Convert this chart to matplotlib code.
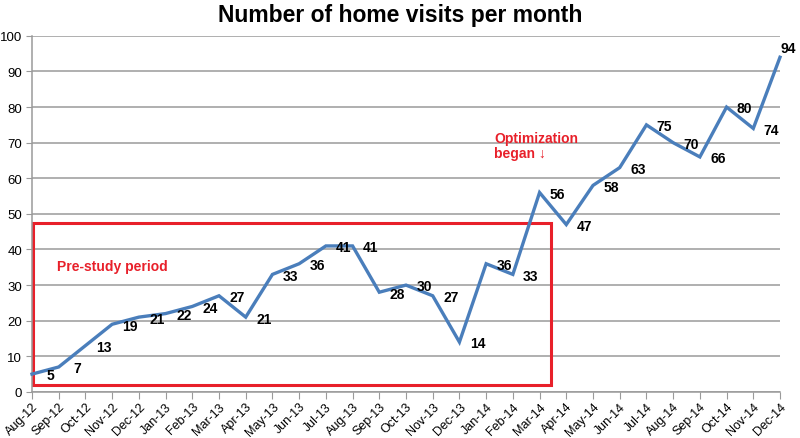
import matplotlib.pyplot as plt
from matplotlib.patches import Rectangle

plt.rcParams['font.family'] = ['Liberation Sans', 'DejaVu Sans']

months = ['Aug-12', 'Sep-12', 'Oct-12', 'Nov-12', 'Dec-12', 'Jan-13', 'Feb-13', 'Mar-13',
          'Apr-13', 'May-13', 'Jun-13', 'Jul-13', 'Aug-13', 'Sep-13', 'Oct-13', 'Nov-13',
          'Dec-13', 'Jan-14', 'Feb-14', 'Mar-14', 'Apr-14', 'May-14', 'Jun-14', 'Jul-14',
          'Aug-14', 'Sep-14', 'Oct-14', 'Nov-14', 'Dec-14']
visits = [5, 7, 13, 19, 21, 22, 24, 27, 21, 33, 36, 41, 41, 28, 30, 27, 14, 36, 33, 56,
          47, 58, 63, 75, 70, 66, 80, 74, 94]
yticks = list(range(0, 101, 10))

grey = '#9a9a9a'
red = '#e8202a'

fig = plt.figure(figsize=(8, 4.39), dpi=100)
ax = fig.add_axes([0.04, 0.105, 0.935, 0.811])

x = list(range(len(months)))
ax.plot(x, visits, color='#4a7ebb', lw=2.4, clip_on=False, zorder=3,
        solid_joinstyle='miter')

for i, v in enumerate(visits):
    # last label sits above-right of the point so it stays in the figure
    off = (6, 7) if i == len(visits) - 1 else (13, -1)
    ax.annotate(str(v), (i, v), xytext=off, textcoords='offset points',
                ha='center', va='center', fontsize=10, fontweight='bold',
                annotation_clip=False, zorder=4)

ax.set_xlim(0, len(months) - 1)
ax.set_ylim(0, 100)
ax.set_yticks(yticks)
ax.set_xticks(x)
ax.set_xticklabels(months, rotation=45, ha='right', rotation_mode='anchor', fontsize=9)
ax.tick_params(axis='y', labelsize=9.5, length=4, color=grey, pad=3)
ax.tick_params(axis='x', length=5, color=grey, pad=1)
ax.grid(axis='y', color=grey, lw=1.1)
ax.set_axisbelow(True)
for s in ['top', 'right']:
    ax.spines[s].set_visible(False)
for s in ['left', 'bottom']:
    ax.spines[s].set_color(grey)
    ax.spines[s].set_linewidth(1.1)

# pre-study box
ax.add_patch(Rectangle((0.03, 1.8), 19.4, 45.6, fill=False, ec=red, lw=2.2, zorder=2,
                       clip_on=False))
ax.text(0.94, 35.4, 'Pre-study period', color=red, fontsize=10, fontweight='bold',
        va='center', ha='left')
ax.text(17.3, 69.2, 'Optimization\nbegan \u2193', color=red, fontsize=10, fontweight='bold',
        va='center', ha='left', linespacing=1.1)

fig.text(0.5, 0.965, 'Number of home visits per month', ha='center', va='center',
         fontsize=16.5, fontweight='bold')

fig.savefig('out.png', dpi=100)
